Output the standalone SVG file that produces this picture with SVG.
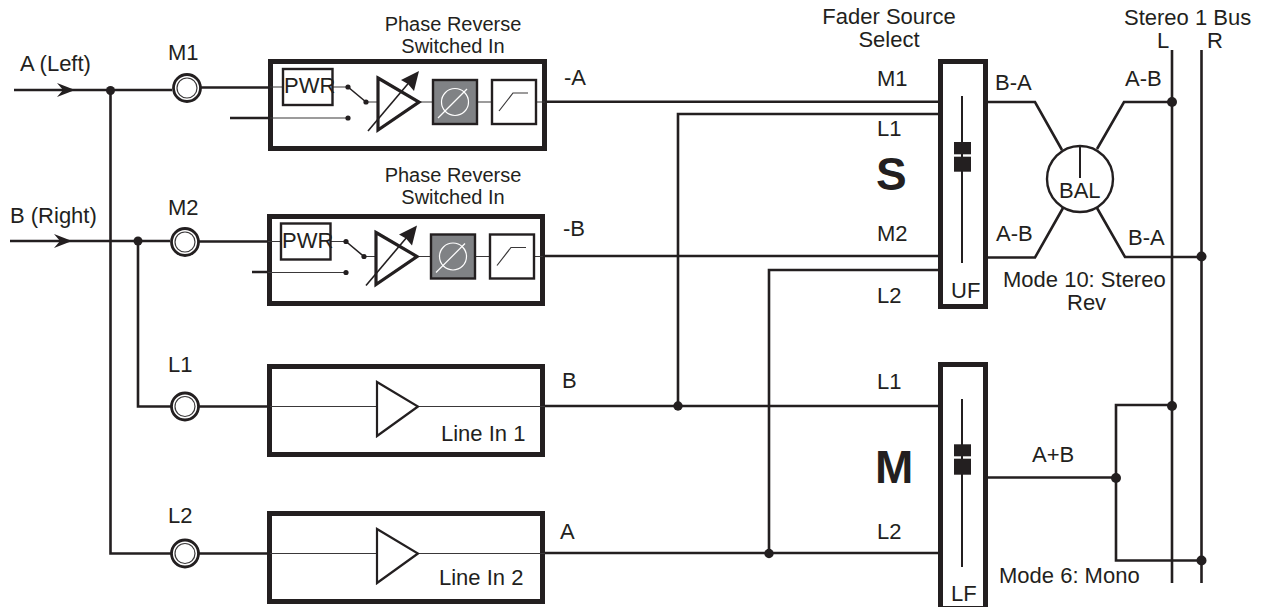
<svg xmlns="http://www.w3.org/2000/svg" width="1266" height="607" viewBox="0 0 1266 607">
<style>
text{font-family:"Liberation Sans",Arial,sans-serif;font-size:22px;fill:#231f20}
.sm{font-size:20px}
.big{font-size:46px;font-weight:bold}
.w{fill:none;stroke:#231f20;stroke-width:2.6}
.s{fill:none;stroke:#231f20;stroke-width:2}
.t{fill:none;stroke:#3a3839;stroke-width:1.2}
.d{fill:none;stroke:#231f20;stroke-width:1.6}
.box{fill:#fff;stroke:#231f20;stroke-width:5}
.b2{fill:#fff;stroke:#231f20;stroke-width:2.4}
.tri{fill:none;stroke:#231f20;stroke-width:3.2}
.tri2{fill:none;stroke:#231f20;stroke-width:2.2}
.k{fill:#231f20}
.ow{fill:none;stroke:#fff;stroke-width:1.2}
.j{fill:#231f20}
</style>
<rect width="1266" height="607" fill="#fff"/>
<g id="connectors">
<path class="w" d="M14 90H172M110.500 90V553.500H172M10 241H170M138 241V406.500H172"/>
<path class="k" d="M75 90L57 83L63 90L57 97Z"/>
<path class="k" d="M72 241L54 234L60 241L54 248Z"/>
<path class="w" d="M201 87.500H270M230 118H270M199 241.500H267M252 272H267M199 406.500H267M199 553.500H267"/>
<path class="w" d="M547 101.700H938M678 406V114H938M545 256H938M769 553V270H938M545 406H938M545 553H938"/>
<path class="w" d="M988 102H1035L1062 150M1097 149L1124 102H1172M988 257.500H1035L1063 208M1097 208L1125 257H1201.500"/>
<path class="w" d="M1172 50V583M1201.500 50V583"/>
<path class="w" d="M988 477.500H1116M1172 405H1116V560.500H1201.500"/>
<circle class="j" cx="110.500" cy="90.500" r="4.500"/>
<circle class="j" cx="138" cy="241" r="4.500"/>
<circle class="j" cx="678" cy="406" r="4.700"/>
<circle class="j" cx="769" cy="553.500" r="4.700"/>
<circle class="j" cx="1172" cy="102" r="5"/>
<circle class="j" cx="1201.500" cy="256.500" r="5"/>
<circle class="j" cx="1172" cy="406" r="5"/>
<circle class="j" cx="1116" cy="478" r="5"/>
<circle class="j" cx="1201.500" cy="560.500" r="5"/>
</g>
<g id="jack-m1"><circle cx="187" cy="88" r="13.500" fill="#fff" stroke="#231f20" stroke-width="2.800"/><circle cx="187" cy="88" r="10" class="t"/></g>
<g id="jack-m2"><circle cx="185" cy="242" r="13.500" fill="#fff" stroke="#231f20" stroke-width="2.800"/><circle cx="185" cy="242" r="10" class="t"/></g>
<g id="jack-l1"><circle cx="185" cy="406.500" r="13.500" fill="#fff" stroke="#231f20" stroke-width="2.800"/><circle cx="185" cy="406.500" r="10" class="t"/></g>
<g id="jack-l2"><circle cx="185" cy="553.500" r="13.500" fill="#fff" stroke="#231f20" stroke-width="2.800"/><circle cx="185" cy="553.500" r="10" class="t"/></g>
<g id="preamp-1">
<rect class="box" x="270.500" y="61.500" width="274" height="87"/>
<path class="t" d="M270 87H282M333 87H348M270 118H348M366 102H378M420 102H432M478 102H492M536 102H545"/>
<rect class="b2" x="283" y="69" width="49.500" height="36"/>
<text x="284" y="93">PWR</text>
<circle class="j" cx="348" cy="87" r="2.600"/><circle class="j" cx="366" cy="102" r="2.600"/><circle class="j" cx="348" cy="118" r="2.600"/>
<path class="d" d="M348 87L366 102"/>
<path class="tri" d="M378 78L419 102L378 130Z"/>
<path class="d" d="M368 131L412 79"/>
<path class="k" d="M419 71L401 80L408 84L414 91Z"/>
<rect x="433" y="80" width="44" height="44" fill="#808285" stroke="#231f20" stroke-width="2.400"/>
<circle class="ow" cx="455" cy="102" r="13.500"/><path class="ow" d="M438 118L467 89"/>
<rect class="b2" x="492" y="80" width="44" height="44"/>
<path class="t" d="M499 111L513 93H528"/>
</g>
<g id="preamp-2" transform="translate(-2 154.500)">
<rect class="box" x="271.500" y="62" width="273" height="87"/>
<path class="t" d="M270 87H282M333 87H348M270 118H348M366 102H378M420 102H432M478 102H492M536 102H545"/>
<rect class="b2" x="283" y="69" width="49.500" height="36"/>
<text x="284" y="93">PWR</text>
<circle class="j" cx="348" cy="87" r="2.600"/><circle class="j" cx="366" cy="102" r="2.600"/><circle class="j" cx="348" cy="118" r="2.600"/>
<path class="d" d="M348 87L366 102"/>
<path class="tri" d="M378 78L419 102L378 130Z"/>
<path class="d" d="M368 131L412 79"/>
<path class="k" d="M419 71L401 80L408 84L414 91Z"/>
<rect x="433" y="80" width="44" height="44" fill="#808285" stroke="#231f20" stroke-width="2.400"/>
<circle class="ow" cx="455" cy="102" r="13.500"/><path class="ow" d="M438 118L467 89"/>
<rect class="b2" x="492" y="80" width="44" height="44"/>
<path class="t" d="M499 111L513 93H528"/>
</g>
<g id="line-in-1">
<rect class="box" x="269.500" y="366.500" width="273" height="88"/>
<path class="t" d="M270 406.500H377M418 406.500H545"/>
<path class="tri2" d="M377 382L418 406.500L377 436Z"/>
<text x="441" y="441">Line In 1</text>
</g>
<g id="line-in-2">
<rect class="box" x="269.500" y="513.500" width="273" height="88"/>
<path class="t" d="M270 553.500H377M418 553.500H545"/>
<path class="tri2" d="M377 529L418 553.500L377 583Z"/>
<text x="439" y="585">Line In 2</text>
</g>
<g id="fader-uf">
<rect class="box" x="940.500" y="61.500" width="45" height="245"/>
<path class="s" d="M962 96V263"/>
<rect class="k" x="954" y="142" width="17" height="12.300"/><rect class="k" x="954" y="156.700" width="17" height="15"/>
<text x="951" y="298">UF</text>
</g>
<g id="fader-lf">
<rect class="box" x="940.500" y="364.500" width="45" height="244"/>
<path class="s" d="M962 399V567"/>
<rect class="k" x="954" y="444.300" width="17" height="12"/><rect class="k" x="954" y="458.700" width="17" height="16"/>
<text x="951" y="601">LF</text>
</g>
<g id="bal">
<circle cx="1080" cy="179" r="33" fill="#fff" stroke="#231f20" stroke-width="2.400"/>
<path class="s" d="M1080 146V178"/>
<text x="1059" y="198">BAL</text>
</g>
<g id="labels">
<text x="20" y="71">A (Left)</text>
<text x="10" y="223">B (Right)</text>
<text x="168" y="60">M1</text>
<text x="168" y="215">M2</text>
<text x="168" y="372">L1</text>
<text x="168" y="523">L2</text>
<text class="sm" x="453" y="31" text-anchor="middle">Phase Reverse</text>
<text class="sm" x="453" y="53" text-anchor="middle">Switched In</text>
<text class="sm" x="453" y="182" text-anchor="middle">Phase Reverse</text>
<text class="sm" x="453" y="204" text-anchor="middle">Switched In</text>
<text x="564" y="85">-A</text>
<text x="563" y="236">-B</text>
<text x="562" y="388">B</text>
<text x="560" y="539">A</text>
<text x="877" y="86">M1</text>
<text x="877" y="136">L1</text>
<text class="big" x="876" y="190">S</text>
<text x="877" y="241">M2</text>
<text x="877" y="303">L2</text>
<text x="877" y="389">L1</text>
<text x="877" y="539">L2</text>
<text class="big" x="875" y="483">M</text>
<text x="889" y="24" text-anchor="middle">Fader Source</text>
<text x="889" y="47" text-anchor="middle">Select</text>
<text x="1124" y="24.500">Stereo 1 Bus</text>
<text x="1157" y="47.500">L</text>
<text x="1207" y="47.500">R</text>
<text x="995" y="90">B-A</text>
<text x="996" y="241">A-B</text>
<text x="1125" y="86">A-B</text>
<text x="1128" y="245">B-A</text>
<text x="1003" y="287">Mode 10: Stereo</text>
<text x="1067" y="310">Rev</text>
<text x="1032" y="462">A+B</text>
<text x="999" y="583">Mode 6: Mono</text>
</g>
</svg>
